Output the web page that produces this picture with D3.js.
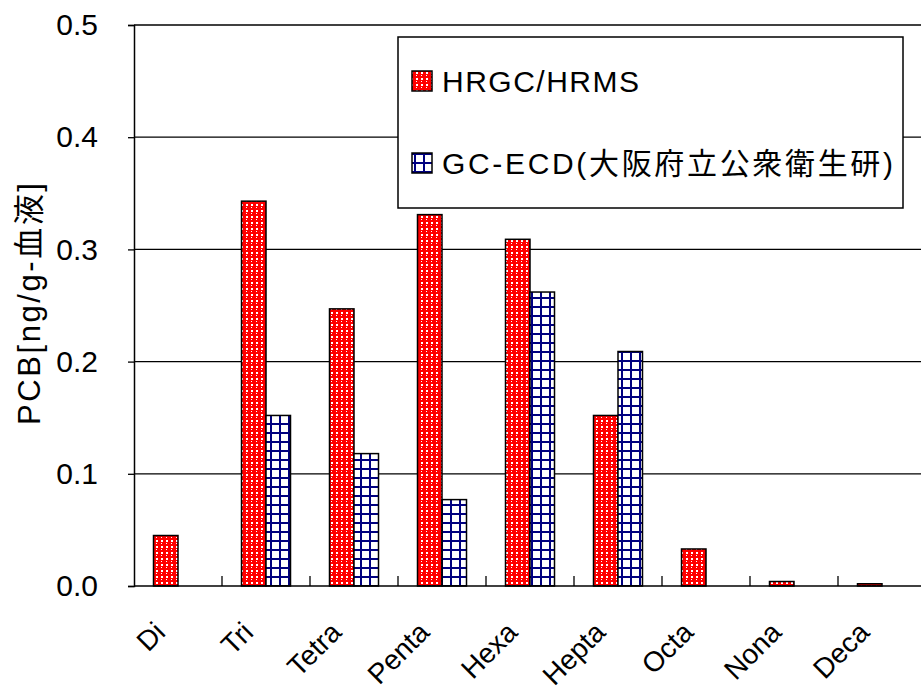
<!DOCTYPE html>
<html><head><meta charset="utf-8">
<script src="https://cdn.jsdelivr.net/npm/d3@7"></script>
<style>
html,body{margin:0;padding:0;background:#fff;}
svg text{font-family:"Liberation Sans",Arial,"Noto Sans CJK JP",sans-serif;fill:#000;}
</style></head>
<body>
<svg id="chart" width="921" height="690"></svg>
<script>
const categories = ["Di","Tri","Tetra","Penta","Hexa","Hepta","Octa","Nona","Deca"];
const seriesNames = ["HRGC/HRMS","GC-ECD(大阪府立公衆衛生研)"];
const hrgcValues = [0.045,0.343,0.247,0.331,0.309,0.152,0.033,0.004,0.002];
const gcecdValues = [0,0.152,0.118,0.077,0.262,0.209,0,0,0];
const yTicks = [0,0.1,0.2,0.3,0.4,0.5];
const yTitle = "PCB[ng/g-血液]";

(function(){
const svg = d3.select("#chart");
const mLeft = 134, mTop = 25, mBottom = 586, slot = 88;
const mRight = mLeft + slot*categories.length;

const defs = svg.append("defs");
const pr = defs.append("pattern").attr("id","pRed").attr("patternUnits","userSpaceOnUse")
  .attr("width",5).attr("height",6);
pr.append("rect").attr("width",5).attr("height",6).attr("fill","#ff0000");
pr.append("rect").attr("x",1).attr("y",0).attr("width",2).attr("height",2).attr("fill","#fff");
pr.append("rect").attr("x",1).attr("y",3).attr("width",1).attr("height",1).attr("fill","#fff");
const pb = defs.append("pattern").attr("id","pBlue").attr("patternUnits","userSpaceOnUse")
  .attr("width",9).attr("height",9);
pb.append("rect").attr("width",9).attr("height",9).attr("fill","#fff");
pb.append("rect").attr("x",0).attr("y",0).attr("width",2).attr("height",9).attr("fill","#000080");
pb.append("rect").attr("x",0).attr("y",0).attr("width",9).attr("height",2).attr("fill","#000080");

const x0 = d3.scaleBand().domain(categories).range([mLeft, mRight]).padding(0);
const x1 = d3.scaleBand().domain([0,1]).range([19.5, slot-19.5]).padding(0);
const y = d3.scaleLinear().domain([0,0.5]).range([mBottom, mTop]);

// gridlines
svg.append("g").selectAll("line").data(yTicks.filter(d=>d>0)).join("line")
  .attr("x1",mLeft).attr("x2",921).attr("y1",d=>y(d)).attr("y2",d=>y(d))
  .attr("stroke","#000").attr("stroke-width",1.3);

// bars
const data = categories.map((c,i)=>({c, vals:[hrgcValues[i], gcecdValues[i]]}));
const fills = ["url(#pRed)","url(#pBlue)"];
const g = svg.append("g");
data.forEach(d=>{
  d.vals.forEach((v,s)=>{
    if (v<=0) return;
    g.append("rect")
      .attr("x", x0(d.c)+x1(s)).attr("width", x1.bandwidth())
      .attr("y", y(v)).attr("height", mBottom - y(v))
      .attr("fill", fills[s]).attr("stroke","#000").attr("stroke-width",1.5);
  });
});

// y axis
const yAxis = d3.axisLeft(y).tickValues(yTicks).tickFormat(d3.format(".1f")).tickSize(6).tickPadding(30);
const ya = svg.append("g").attr("transform",`translate(${mLeft},0)`).call(yAxis);
ya.select(".domain").attr("stroke","#000").attr("stroke-width",1.5);
ya.selectAll(".tick line").attr("stroke","#000").attr("stroke-width",1.3);
ya.selectAll(".tick text").attr("font-size",30).attr("fill","#000")
  .attr("font-family",'"Liberation Sans",Arial,sans-serif');

// x axis
svg.append("line").attr("x1",mLeft).attr("x2",921).attr("y1",mBottom).attr("y2",mBottom)
  .attr("stroke","#000").attr("stroke-width",1.5);
svg.append("g").selectAll("line").data(categories.slice(1)).join("line")
  .attr("x1",d=>x0(d)).attr("x2",d=>x0(d)).attr("y1",mBottom).attr("y2",mBottom-10)
  .attr("stroke","#000").attr("stroke-width",1.3);
svg.append("g").selectAll("text").data(categories).join("text")
  .attr("transform",d=>`translate(${x0(d)+slot/2-11},634) rotate(-45)`)
  .attr("text-anchor","end").attr("font-size",28).text(d=>d);

// y title
svg.append("text").attr("transform","translate(40,304) rotate(-90)")
  .attr("text-anchor","middle").attr("font-size",31)
  .attr("textLength",242).attr("lengthAdjust","spacing").text(yTitle);

// legend
const legendLens = [197, 451];
const lg = svg.append("g");
lg.append("rect").attr("x",398).attr("y",37).attr("width",505).attr("height",171)
  .attr("fill","#fff").attr("stroke","#000").attr("stroke-width",1.5);
seriesNames.forEach((n,i)=>{
  const cy = 81 + i*82;
  lg.append("rect").attr("x",412).attr("y",cy-10).attr("width",20).attr("height",20)
    .attr("fill",fills[i]).attr("stroke","#000").attr("stroke-width",1.5);
  lg.append("text").attr("x",442).attr("y",cy).attr("dy","0.36em")
    .attr("font-size",30).attr("textLength",legendLens[i]).attr("lengthAdjust","spacing").text(n);
});
})();
</script>
</body></html>
